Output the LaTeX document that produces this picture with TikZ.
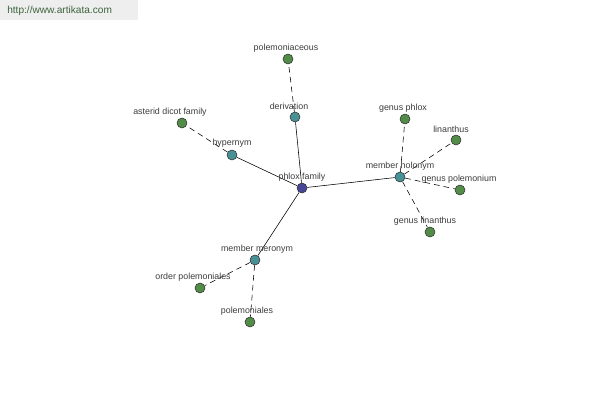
\documentclass[tikz,border=0pt]{standalone}
\usepackage{fontspec}
\setmainfont{Liberation Sans}
\usepackage{tikz}

\definecolor{leafgreen}{RGB}{82,140,72}
\definecolor{relteal}{RGB}{72,146,150}
\definecolor{rootblue}{RGB}{70,72,150}
\definecolor{labelgrey}{RGB}{60,60,60}
\definecolor{bannergrey}{RGB}{238,238,238}
\definecolor{bannertext}{RGB}{60,100,60}

\tikzset{
  dot/.style={circle, draw=black!80, thin, minimum size=0.25cm, inner sep=0pt},
  leaf/.style={dot, fill=leafgreen},
  relation/.style={dot, fill=relteal},
  root/.style={dot, fill=rootblue},
  lbl/.style={font=\fontsize{6.3}{7}\selectfont, text=labelgrey, inner sep=0pt},
  solidedge/.style={draw=black, thin},
  dashedge/.style={draw=black, thin, dash pattern=on 4pt off 3pt}
}

\begin{document}
\begin{tikzpicture}[x=0.025cm, y=-0.025cm]
				\useasboundingbox (0,0) rectangle (600,400);
				
				% Banner in the corner
				\fill[bannergrey] (0,0) rectangle (138,20);
				\node[anchor=west, font=\fontsize{7.2}{8}\selectfont, text=bannertext, inner sep=0pt] (banner) at (7,11) {http://www.artikata.com};
				
				% Centre and relation nodes
				\node[root] (phlox) at (302,188) {};
				\node[relation] (deriv) at (295,117) {};
				\node[relation] (hyper) at (232,155) {};
				\node[relation] (holo) at (400,177) {};
				\node[relation] (mero) at (255,260) {};
				
				% Leaf nodes
				\node[leaf] (polemac) at (288,59) {};
				\node[leaf] (asterid) at (182,123) {};
				\node[leaf] (gphlox) at (405,119) {};
				\node[leaf] (linan) at (456,140) {};
				\node[leaf] (gpolem) at (460,190) {};
				\node[leaf] (glinan) at (430,232) {};
				\node[leaf] (orderpol) at (200,288) {};
				\node[leaf] (polales) at (250,322) {};
				
				% Connectors
				\draw[solidedge] (phlox) -- (deriv);
				\draw[solidedge] (phlox) -- (hyper);
				\draw[solidedge] (phlox) -- (holo);
				\draw[solidedge] (phlox) -- (mero);
				\draw[dashedge] (deriv) -- (polemac);
				\draw[dashedge] (hyper) -- (asterid);
				\draw[dashedge] (holo) -- (gphlox);
				\draw[dashedge] (holo) -- (linan);
				\draw[dashedge] (holo) -- (gpolem);
				\draw[dashedge] (holo) -- (glinan);
				\draw[dashedge] (mero) -- (orderpol);
				\draw[dashedge] (mero) -- (polales);
				
				% Labels
				\node[lbl] (phloxlbl) at (302,177) {phlox family};
				\node[lbl] (derivlbl) at (289,106) {derivation};
				\node[lbl] (hyperlbl) at (232,143) {hypernym};
				\node[lbl] (hololbl) at (400,166) {member holonym};
				\node[lbl] (merolbl) at (257,249) {member meronym};
				\node[lbl] (polemaclbl) at (286,48) {polemoniaceous};
				\node[lbl] (asteridlbl) at (170,112) {asterid dicot family};
				\node[lbl] (gphloxlbl) at (403,108) {genus phlox};
				\node[lbl] (linanlbl) at (451,129) {linanthus};
				\node[lbl] (gpolemlbl) at (459,179) {genus polemonium};
				\node[lbl] (glinanlbl) at (425,221) {genus linanthus};
				\node[lbl] (orderpollbl) at (193,277) {order polemoniales};
				\node[lbl] (polaleslbl) at (247,311) {polemoniales};
			\end{tikzpicture}
\end{document}
